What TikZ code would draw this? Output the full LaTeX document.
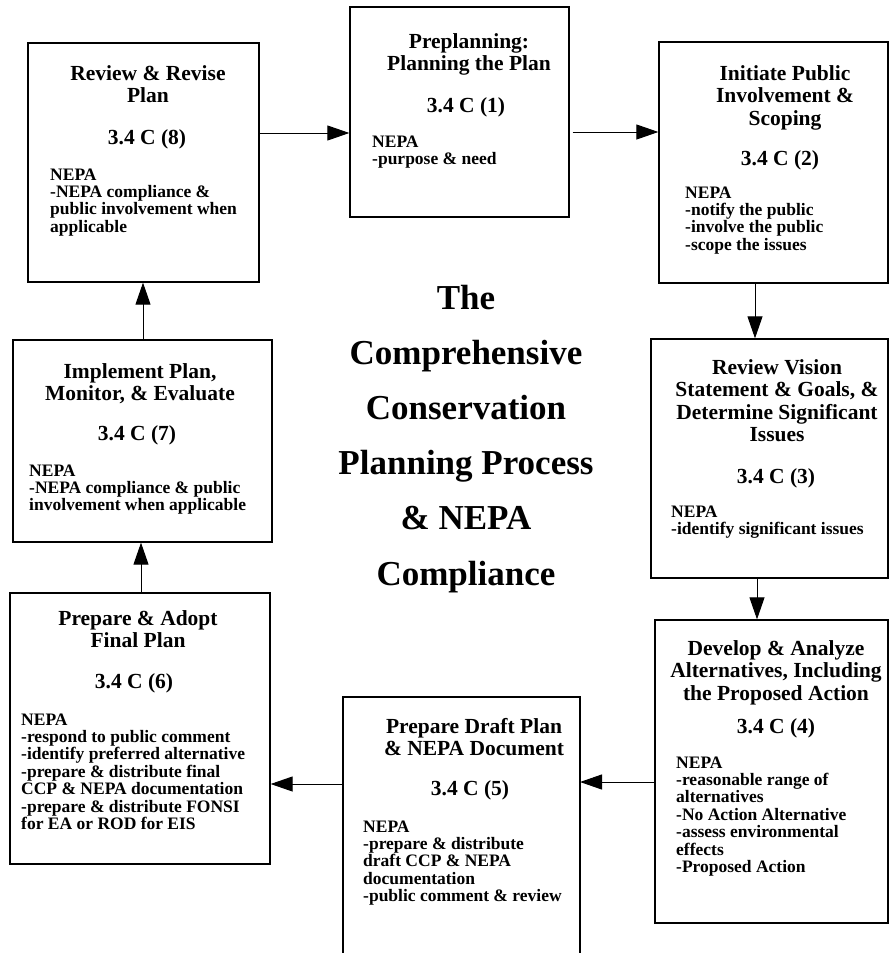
\documentclass[tikz,border=0pt]{standalone}
\usepackage{fontspec}
\setmainfont{Liberation Serif}
\usetikzlibrary{arrows.meta}
\newcommand\titc[1]{\vtop{\halign{\hfil##\hfil\cr#1\crcr}}}
\newcommand\bodyl[1]{\vtop{\halign{##\hfil\cr#1\crcr}}}
\tikzset{
  boxshape/.style={draw, line width=1.3pt, inner sep=0pt, rectangle},
  openbox/.style={line width=1.3pt, line cap=rect},
  arr/.style={-{Triangle[length=22pt,width=15pt]}, line width=1pt},
  titletext/.style={font=\fontsize{21.5}{22.5}\selectfont\bfseries, inner sep=0pt, anchor=base},
  numtext/.style={font=\fontsize{21.5}{22.5}\selectfont\bfseries, inner sep=0pt, anchor=base},
  bodytext/.style={font=\fontsize{17.5}{17.4}\selectfont\bfseries, inner sep=0pt, anchor=base west},
  bigtitle/.style={font=\fontsize{35}{55.2}\selectfont\bfseries, inner sep=0pt, anchor=base}
}
\begin{document}
\begin{tikzpicture}[x=1pt,y=-1pt]
\useasboundingbox[fill=white] (0,0) rectangle (890,953);

% boxes
\node[boxshape, minimum width=231pt, minimum height=239pt] (b8) at (143.5,162.5) {};
\node[boxshape, minimum width=219pt, minimum height=210pt] (b1) at (459.5,112) {};
\node[boxshape, minimum width=229pt, minimum height=241pt] (b2) at (773.5,162.5) {};
\node[boxshape, minimum width=237pt, minimum height=239pt] (b3) at (769.5,458.5) {};
\node[boxshape, minimum width=233pt, minimum height=303pt] (b4) at (771.5,771.5) {};
\node[rectangle, inner sep=0pt, outer sep=0pt, minimum width=237pt, minimum height=256pt] (b5) at (461.5,825) {};
\draw[openbox] (b5.south west) -- (b5.north west) -- (b5.north east) -- (b5.south east);
\node[boxshape, minimum width=260pt, minimum height=271pt] (b6) at (140,728.5) {};
\node[boxshape, minimum width=259pt, minimum height=202pt] (b7) at (142.5,441) {};

% box 8
\node[titletext] (t8) at (148,80) {\titc{Review \& Revise\cr Plan}};
\node[numtext] (n8) at (147,144) {3.4 C (8)};
\node[bodytext] (d8) at (50,180) {\bodyl{NEPA\cr -NEPA compliance \&\cr public involvement when\cr applicable}};

% box 1
\node[titletext] (t1) at (469,48) {\titc{Preplanning:\cr Planning the Plan}};
\node[numtext] (n1) at (466,112) {3.4 C (1)};
\node[bodytext] (d1) at (372,147) {\bodyl{NEPA\cr -purpose \& need}};

% box 2
\node[titletext] (t2) at (785,80) {\titc{Initiate Public\cr Involvement \&\cr Scoping}};
\node[numtext] (n2) at (780,165) {3.4 C (2)};
\node[bodytext] (d2) at (685,198) {\bodyl{NEPA\cr -notify the public\cr -involve the public\cr -scope the issues}};

% box 3
\node[titletext] (t3) at (777,374) {\titc{Review Vision\cr Statement \& Goals, \&\cr Determine Significant\cr Issues}};
\node[numtext] (n3) at (776,483) {3.4 C (3)};
\node[bodytext] (d3) at (671,517) {\bodyl{NEPA\cr -identify significant issues}};

% box 4
\node[titletext] (t4) at (776,655) {\titc{Develop \& Analyze\cr Alternatives, Including\cr the Proposed Action}};
\node[numtext] (n4) at (776,733) {3.4 C (4)};
\node[bodytext] (d4) at (676,768) {\bodyl{NEPA\cr -reasonable range of\cr alternatives\cr -No Action Alternative\cr -assess environmental\cr effects\cr -Proposed Action}};

% box 5
\node[titletext] (t5) at (474,733) {\titc{Prepare Draft Plan\cr \& NEPA Document}};
\node[numtext] (n5) at (470,795) {3.4 C (5)};
\node[bodytext] (d5) at (363,832) {\bodyl{NEPA\cr -prepare \& distribute\cr draft CCP \& NEPA\cr documentation\cr -public comment \& review}};

% box 6
\node[titletext] (t6) at (138,625) {\titc{Prepare \& Adopt\cr Final Plan}};
\node[numtext] (n6) at (134,688) {3.4 C (6)};
\node[bodytext] (d6) at (21,725) {\bodyl{NEPA\cr -respond to public comment\cr -identify preferred alternative\cr -prepare \& distribute final\cr CCP \& NEPA documentation\cr -prepare \& distribute FONSI\cr for EA or ROD for EIS}};

% box 7
\node[titletext] (t7) at (140,378) {\titc{Implement Plan,\cr Monitor, \& Evaluate}};
\node[numtext] (n7) at (137,440) {3.4 C (7)};
\node[bodytext] (d7) at (29,476) {\bodyl{NEPA\cr -NEPA compliance \& public\cr involvement when applicable}};

% central title
\node[bigtitle] (title) at (466,309) {\titc{The\cr Comprehensive\cr Conservation\cr Planning Process\cr \& NEPA\cr Compliance}};

% connectors
\coordinate (s1) at ([yshift=29.5pt]b8.east);
\draw[arr] (s1) -- (s1 -| b1.west);
\coordinate (s2) at ([xshift=3pt,yshift=-20pt]b1.east);
\draw[arr] (s2) -- (s2 -| b2.west);
\coordinate (s3) at ([xshift=-18.5pt]b2.south);
\draw[arr] (s3) -- (s3 |- b3.north);
\coordinate (s4) at ([xshift=-12.5pt]b3.south);
\draw[arr] (s4) -- (s4 |- b4.north);
\coordinate (s5) at ([yshift=-10.5pt]b4.west);
\draw[arr] (s5) -- (s5 -| b5.east);
\coordinate (s6) at ([yshift=41pt]b5.west);
\draw[arr] (s6) -- (s6 -| b6.east);
\coordinate (s7) at ([xshift=1pt]b6.north);
\draw[arr] (s7) -- (s7 |- b7.south);
\coordinate (s8) at ([xshift=0.5pt]b7.north);
\draw[arr] (s8) -- (s8 |- b8.south);
\end{tikzpicture}
\end{document}
